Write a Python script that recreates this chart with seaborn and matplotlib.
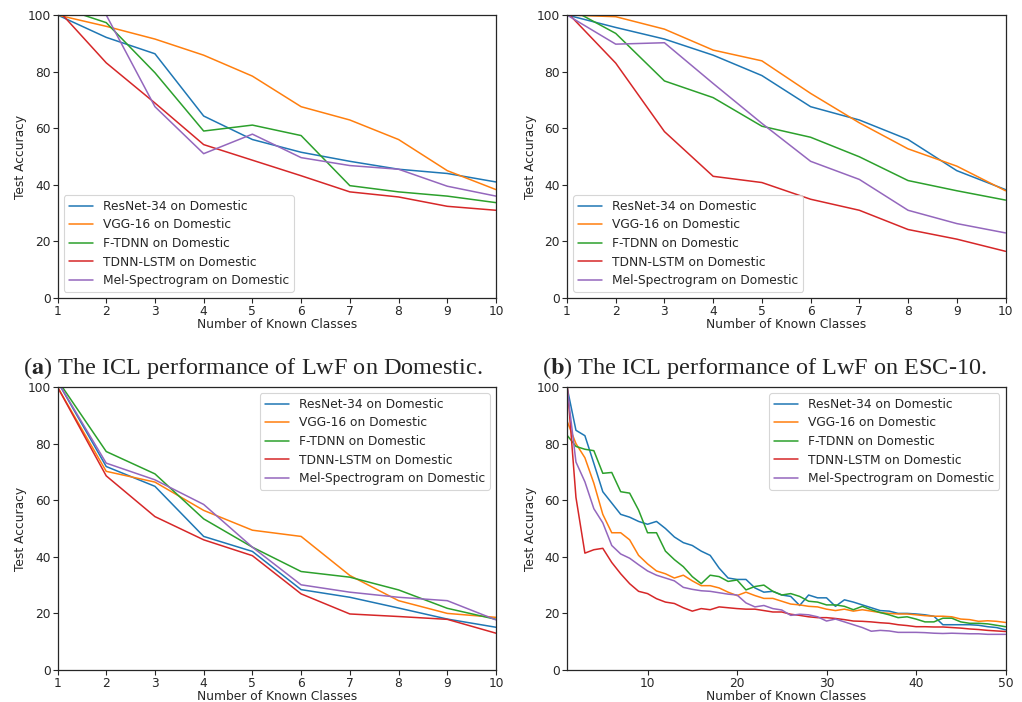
import numpy as np
import pandas as pd
import matplotlib
matplotlib.use("Agg")
import matplotlib.pyplot as plt
import seaborn as sns

# ---- data -------------------------------------------------------------
models = ["ResNet-34 on Domestic", "VGG-16 on Domestic", "F-TDNN on Domestic",
          "TDNN-LSTM on Domestic", "Mel-Spectrogram on Domestic"]

classes_10 = list(range(1, 11))
classes_50 = list(range(1, 51))

# (a) LwF on Domestic
a_resnet = [100, 92.1, 86.3, 64.3, 56.0, 51.5, 48.3, 45.5, 44.0, 41.0]
a_vgg = [100, 96.0, 91.5, 85.8, 78.4, 67.6, 62.9, 56.0, 45.0, 38.3]
a_ftdnn = [103, 97.3, 79.6, 59.0, 61.1, 57.4, 39.7, 37.5, 36.0, 33.7]
a_tdnnlstm = [102, 83.1, 68.9, 54.2, 48.7, 43.2, 37.5, 35.7, 32.4, 31.0]
a_mel = [100, 100, 67.6, 51.0, 57.9, 49.6, 46.8, 45.5, 39.5, 36.0]

# (b) LwF on ESC-10
b_resnet = [100, 95.6, 91.5, 85.8, 78.6, 67.6, 62.9, 56.0, 45.0, 38.3]
b_vgg = [100, 99.4, 95.0, 87.6, 83.8, 72.3, 61.9, 52.7, 46.6, 37.9]
b_ftdnn = [102.8, 93.5, 76.7, 70.8, 60.7, 56.8, 49.9, 41.5, 37.9, 34.6]
b_tdnnlstm = [101, 83.0, 58.8, 43.0, 40.8, 34.9, 31.0, 24.2, 20.8, 16.5]
b_mel = [100, 89.7, 90.2, 75.8, 61.7, 48.3, 41.9, 31.0, 26.3, 23.0]

# (c) ten-class run
c_resnet = [102, 71.9, 64.9, 47.2, 41.9, 28.4, 25.7, 21.9, 18.0, 15.1]
c_vgg = [100, 70.2, 66.4, 56.4, 49.4, 47.2, 33.4, 24.5, 20.0, 18.6]
c_ftdnn = [102.5, 77.2, 69.3, 53.4, 43.4, 34.8, 32.8, 28.3, 21.8, 17.9]
c_tdnnlstm = [100, 68.6, 54.2, 46.0, 40.4, 26.9, 19.8, 18.9, 17.9, 13.0]
c_mel = [102, 73.1, 67.2, 58.5, 43.4, 30.1, 27.5, 25.7, 24.5, 17.7]

# (d) fifty-class run
d_resnet = [100, 84.7, 82.8, 73.0, 63.0, 59.0, 55.0, 54.0, 52.5, 51.5,
            52.5, 50.0, 47.0, 45.0, 44.0, 42.0, 40.5, 36.0, 32.5, 32.0,
            32.0, 29.0, 27.5, 27.8, 26.5, 26.0, 22.8, 26.5, 25.5, 25.5,
            22.5, 24.8, 24.0, 23.0, 22.0, 21.0, 20.8, 20.0, 20.0, 19.8,
            19.5, 19.0, 16.0, 16.0, 16.0, 16.0, 15.8, 15.3, 15.0, 14.2]
d_vgg = [88.0, 80.0, 75.0, 66.0, 55.0, 48.5, 48.5, 46.0, 40.5, 37.5,
         35.0, 34.0, 32.5, 33.5, 31.5, 29.8, 29.8, 29.0, 27.5, 26.3,
         27.5, 26.3, 25.3, 25.3, 24.3, 23.3, 23.0, 22.5, 22.3, 21.5,
         21.0, 21.5, 20.8, 21.3, 20.8, 20.3, 20.0, 19.8, 19.8, 19.5,
         19.2, 19.0, 19.0, 18.8, 18.0, 17.8, 17.2, 17.4, 17.2, 16.8]
d_ftdnn = [83.0, 79.0, 78.0, 77.5, 69.5, 69.8, 63.0, 62.5, 56.5, 48.5,
           48.5, 42.0, 39.0, 36.5, 33.0, 30.5, 33.5, 33.0, 31.3, 31.8,
           28.3, 29.5, 30.0, 27.8, 26.5, 27.0, 26.0, 24.3, 24.0, 23.0,
           23.0, 22.5, 21.3, 22.5, 21.3, 20.3, 19.5, 18.5, 18.8, 18.0,
           17.0, 17.0, 18.3, 18.3, 17.0, 16.5, 16.5, 16.3, 15.8, 15.3]
d_tdnnlstm = [102, 61.0, 41.3, 42.5, 43.0, 38.0, 34.0, 30.5, 27.8, 27.0,
              25.2, 24.0, 23.5, 22.0, 20.8, 21.7, 21.3, 22.3, 22.0, 21.7,
              21.5, 21.5, 21.0, 20.5, 20.5, 19.7, 19.3, 18.8, 18.5, 18.5,
              18.2, 17.8, 17.3, 17.2, 17.0, 16.7, 16.5, 16.0, 15.7, 15.3,
              15.3, 15.2, 15.2, 15.0, 14.8, 14.5, 14.3, 14.0, 13.8, 13.6]
d_mel = [100, 73.5, 66.5, 57.0, 52.0, 44.0, 41.0, 39.5, 37.2, 35.0,
         33.5, 32.5, 31.5, 29.2, 28.5, 28.0, 27.8, 27.3, 26.8, 26.5,
         23.7, 22.3, 22.8, 21.7, 21.2, 19.3, 19.7, 19.5, 18.8, 17.3,
         18.0, 17.0, 16.0, 15.0, 13.7, 14.0, 13.8, 13.3, 13.3, 13.3,
         13.2, 13.0, 12.9, 13.0, 12.9, 12.8, 12.8, 12.6, 12.6, 12.6]

captions = ["The ICL performance of LwF on Domestic.",
            "The ICL performance of LwF on ESC-10."]
caption_tags = ["a", "b"]

panels = [
    (classes_10, [a_resnet, a_vgg, a_ftdnn, a_tdnnlstm, a_mel], "lower left"),
    (classes_10, [b_resnet, b_vgg, b_ftdnn, b_tdnnlstm, b_mel], "lower left"),
    (classes_10, [c_resnet, c_vgg, c_ftdnn, c_tdnnlstm, c_mel], "upper right"),
    (classes_50, [d_resnet, d_vgg, d_ftdnn, d_tdnnlstm, d_mel], "upper right"),
]

# ---- style ------------------------------------------------------------
sns.set_style("ticks")
plt.rcParams["font.family"] = ["DejaVu Sans"]
plt.rcParams["mathtext.fontset"] = "stix"
palette = sns.color_palette("tab10", 5)

fig = plt.figure(figsize=(10.22, 7.02), dpi=100)
W, H = 1022, 702
boxes = [(57.5, 15, 496, 298), (567, 15, 1005.5, 298),
         (57.5, 387, 496, 670), (567, 387, 1005.5, 670)]

for (x0, y0, x1, y1), (xs, series, loc) in zip(boxes, panels):
    ax = fig.add_axes([x0 / W, 1 - y1 / H, (x1 - x0) / W, (y1 - y0) / H])
    frames = [pd.DataFrame({"classes": xs, "acc": ys, "model": name})
              for name, ys in zip(models, series)]
    df = pd.concat(frames, ignore_index=True)
    sns.lineplot(data=df, x="classes", y="acc", hue="model", hue_order=models,
                 palette=palette, linewidth=1.1, ax=ax)
    ax.set_xlim(xs[0], xs[-1])
    ax.set_ylim(0, 100)
    ax.set_yticks([0, 20, 40, 60, 80, 100])
    if len(xs) == 10:
        ax.set_xticks(xs)
    else:
        ax.set_xticks([10, 20, 30, 40, 50])
    ax.set_xlabel("Number of Known Classes", fontsize=8.8, labelpad=0)
    ax.set_ylabel("Test Accuracy", fontsize=8.8, labelpad=0)
    ax.tick_params(labelsize=8.8, length=3.5, pad=1.5)
    for sp in ax.spines.values():
        sp.set_visible(True)
        sp.set_linewidth(0.9)
    leg = ax.legend(loc=loc, fontsize=8.8, frameon=True, handlelength=2.0,
                    borderpad=0.4, labelspacing=0.45)
    leg.get_frame().set_linewidth(0.8)
    leg.get_frame().set_edgecolor("#cccccc")

# sub-figure captions between the rows
cap_y = 1 - 368 / H
for cx, tag, text in zip([253 / W, 764 / W], caption_tags, captions):
    fig.text(cx, cap_y, f"($\\mathbf{{{tag}}}$) {text}", ha="center",
             va="center", fontsize=17.5, family="Liberation Serif")

fig.savefig("out.png", dpi=100)
